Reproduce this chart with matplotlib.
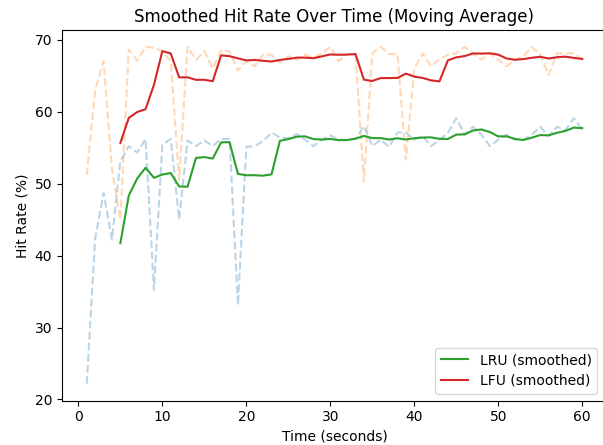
import pandas as pd
import matplotlib
matplotlib.use("Agg")
import matplotlib.pyplot as plt

# hit rate per second
time_s = list(range(1, 61))

lru_hit = [22.2, 42.4, 48.7, 42.2, 53.1, 55.2, 54.3, 56.2, 35.2, 55.4,
           56.2, 45.0, 56.0, 55.2, 56.0, 55.2, 56.2, 56.2, 33.1, 55.1,
           55.2, 55.9, 57.1, 56.4, 56.3, 56.9, 56.1, 55.2, 56.1, 56.7,
           56.1, 56.1, 56.2, 58.0, 55.2, 56.1, 55.1, 57.1, 57.1, 56.1,
           56.6, 55.2, 56.1, 57.0, 59.1, 56.8, 57.9, 56.8, 55.2, 56.1,
           56.8, 56.1, 56.1, 56.8, 57.9, 56.6, 57.9, 57.4, 59.1, 57.5]

lfu_hit = [51.2, 63.0, 67.0, 52.0, 45.0, 68.6, 67.1, 69.0, 68.9, 68.4,
           67.0, 50.5, 69.0, 67.2, 68.4, 66.0, 68.5, 68.4, 65.7, 67.0,
           66.3, 67.9, 67.9, 66.8, 67.7, 67.2, 67.9, 67.5, 68.1, 69.0,
           67.0, 68.0, 67.9, 50.3, 68.1, 69.0, 68.0, 68.0, 53.3, 66.0,
           68.1, 66.3, 67.3, 67.9, 68.1, 69.0, 68.1, 67.2, 68.1, 67.2,
           66.3, 67.2, 67.7, 69.0, 67.9, 65.1, 68.1, 68.1, 68.1, 67.2]

window = 5

df = pd.DataFrame({"time": time_s, "lru": lru_hit, "lfu": lfu_hit})
df["lru_smooth"] = df["lru"].rolling(window).mean()
df["lfu_smooth"] = df["lfu"].rolling(window).mean()

# the reference is cropped just past the right spine
fig = plt.figure(figsize=(6.03, 4.45), dpi=100)
ax = fig.add_axes([62 / 603, 44.5 / 445, 545 / 603, 370.5 / 445])

ax.plot(df["time"], df["lru"], color="tab:blue", linestyle="--", alpha=0.3)
ax.plot(df["time"], df["lfu"], color="tab:orange", linestyle="--", alpha=0.3)
ax.plot(df["time"], df["lru_smooth"], color="tab:green", label="LRU (smoothed)")
ax.plot(df["time"], df["lfu_smooth"], color="tab:red", label="LFU (smoothed)")

ax.set_title("Smoothed Hit Rate Over Time (Moving Average)")
ax.set_xlabel("Time (seconds)")
ax.set_ylabel("Hit Rate (%)")
ax.legend(loc="lower right", bbox_to_anchor=(542 / 545, 0))

fig.savefig("out.png", dpi=100)
plt.close(fig)
